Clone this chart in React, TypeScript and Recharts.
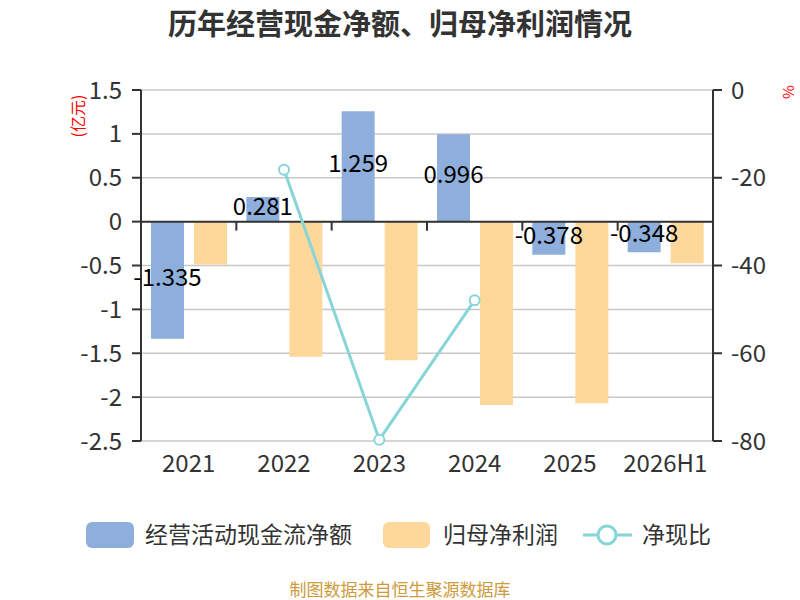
import React from 'react';
import {
  ComposedChart,
  Bar,
  Line,
  XAxis,
  YAxis,
  CartesianGrid,
  ReferenceLine,
  LabelList,
} from 'recharts';

const categories = ['2021', '2022', '2023', '2024', '2025', '2026H1'];
const cashFlow = [-1.335, 0.281, 1.259, 0.996, -0.378, -0.348];
const netProfit = [-0.49, -1.54, -1.58, -2.09, -2.07, -0.475];
const cashRatio: (number | null)[] = [null, -18.2, -79.7, -47.9, null, null];
const leftTicks = [1.5, 1, 0.5, 0, -0.5, -1, -1.5, -2, -2.5];
const rightTicks = [0, -20, -40, -60, -80];

const seriesNames = ['经营活动现金流净额', '归母净利润', '净现比'];
const title = '历年经营现金净额、归母净利润情况';
const source = '制图数据来自恒生聚源数据库';

const BLUE = '#8eaedb';
const ORANGE = '#fed89a';
const CYAN = '#88d5d8';
const AXIS = '#333333';
const FONT = "'Noto Sans CJK SC', 'Noto Sans', sans-serif";

const data = categories.map((c, i) => ({
  name: c,
  cash: cashFlow[i],
  profit: netProfit[i],
  ratio: cashRatio[i],
}));

const ZeroAxis = (props: any) => {
  const { x1, y1, x2 } = props;
  const n = categories.length;
  const band = (x2 - x1) / n;
  const ticks = [];
  for (let i = 1; i < n; i++) {
    const x = x1 + band * i;
    ticks.push(<line key={i} x1={x} y1={y1} x2={x} y2={y1 + 9} stroke={AXIS} strokeWidth={2} />);
  }
  return (
    <g>
      <line x1={x1} y1={y1} x2={x2} y2={y1} stroke={AXIS} strokeWidth={2} />
      {ticks}
    </g>
  );
};

export default function App() {
  return (
    <div style={{ position: 'absolute', left: 0, top: 0, width: 800, height: 600, background: '#fff', fontFamily: FONT }}>
      <ComposedChart
        width={800}
        height={600}
        data={data}
        margin={{ top: 90, right: 0, bottom: 119, left: 0 }}
        barGap={10}
      >
        <CartesianGrid yAxisId="left" vertical={false} stroke="#c8c8c8" strokeWidth={1.5} />
        <XAxis
          dataKey="name"
          height={40}
          axisLine={false}
          tickLine={false}
          tickSize={0}
          tickMargin={14}
          tick={{ fontSize: 24, fill: AXIS }}
          interval={0}
        />
        <YAxis
          yAxisId="left"
          orientation="left"
          width={141}
          domain={[-2.5, 1.5]}
          ticks={leftTicks}
          interval={0}
          axisLine={{ stroke: AXIS, strokeWidth: 2 }}
          tickLine={{ stroke: AXIS, strokeWidth: 2 }}
          tickSize={9}
          tickMargin={10}
          tick={{ fontSize: 24, fill: AXIS }}
        />
        <YAxis
          yAxisId="right"
          orientation="right"
          width={87}
          domain={[-80, 0]}
          ticks={rightTicks}
          interval={0}
          axisLine={{ stroke: AXIS, strokeWidth: 2 }}
          tickLine={{ stroke: AXIS, strokeWidth: 2 }}
          tickSize={9}
          tickMargin={9}
          tick={{ fontSize: 24, fill: AXIS }}
        />
        <Bar yAxisId="left" dataKey="cash" name={seriesNames[0]} fill={BLUE} barSize={33} isAnimationActive={false}>
          <LabelList dataKey="cash" position="center" fill="#000" fontSize={24} dy={-3} />
        </Bar>
        <Bar yAxisId="left" dataKey="profit" name={seriesNames[1]} fill={ORANGE} barSize={33} isAnimationActive={false} />
        <ReferenceLine yAxisId="left" y={0} shape={ZeroAxis} />
        <Line
          yAxisId="right"
          dataKey="ratio"
          name={seriesNames[2]}
          stroke={CYAN}
          strokeWidth={3}
          dot={{ r: 5, fill: '#fff', stroke: CYAN, strokeWidth: 2 }}
          connectNulls={false}
          isAnimationActive={false}
        />
      </ComposedChart>

      <svg width={800} height={600} style={{ position: 'absolute', left: 0, top: 0, pointerEvents: 'none' }}>
        <text x={400} y={35} textAnchor="middle" fontSize={29} fontWeight="bold" fill="#333">{title}</text>
        <text x={0} y={0} transform="translate(84,116) rotate(-90)" textAnchor="middle" fontSize={16} fill="#ff0000">(亿元)</text>
        <text x={0} y={0} transform="translate(794,92) rotate(-90)" textAnchor="middle" fontSize={15} fill="#ff0000">%</text>
        <text x={400} y={596} textAnchor="middle" fontSize={17} fill="#cc9a3a">{source}</text>

        <rect x={86} y={522} width={48} height={26} rx={6} fill={BLUE} />
        <text x={145} y={543} fontSize={23} fill="#333">{seriesNames[0]}</text>
        <rect x={383} y={522} width={47} height={26} rx={6} fill={ORANGE} />
        <text x={443} y={543} fontSize={23} fill="#333">{seriesNames[1]}</text>
        <line x1={583} y1={535} x2={632} y2={535} stroke={CYAN} strokeWidth={3} />
        <circle cx={607} cy={535} r={9} fill="#fff" stroke={CYAN} strokeWidth={3} />
        <text x={642} y={543} fontSize={23} fill="#333">{seriesNames[2]}</text>
      </svg>
    </div>
  );
}
